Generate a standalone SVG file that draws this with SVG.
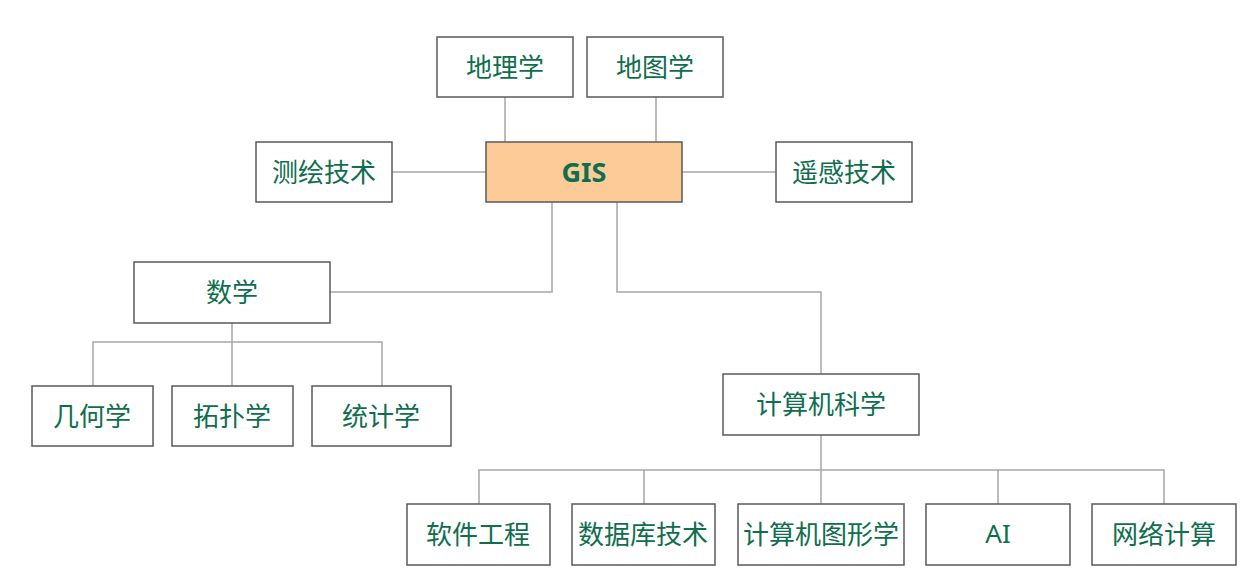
<svg xmlns="http://www.w3.org/2000/svg" width="1254" height="579" viewBox="0 0 1254 579">
<style>
.box{fill:#ffffff;stroke:#595959;stroke-width:1.5}
.root{fill:#FDCB98;stroke:#595959;stroke-width:1.5}
text{text-anchor:middle;dominant-baseline:central;fill:#0F6E4E;font-size:26px}
.lbl{font-family:"Noto Sans CJK SC","Noto Sans",sans-serif}
.gis{font-family:"Noto Sans","Open Sans",sans-serif;font-size:27px;font-weight:bold}
.ai{font-family:"Noto Sans","Open Sans",sans-serif}
.c{fill:none;stroke:#A6A6A6;stroke-width:1.5}
</style>
<rect width="1254" height="579" fill="#ffffff"/>
<g id="connectors">
<path class="c" d="M505,97V142"/>
<path class="c" d="M656,97V142"/>
<path class="c" d="M392,172H486"/>
<path class="c" d="M682,172H776"/>
<path class="c" d="M552,202V292H330"/>
<path class="c" d="M617,202V292H821V374"/>
<path class="c" d="M232,323V386"/>
<path class="c" d="M93,386V342H382V386"/>
<path class="c" d="M821,435V504"/>
<path class="c" d="M479,504V470H1164V504"/>
<path class="c" d="M644,470V504"/>
<path class="c" d="M998,470V504"/>
</g>
<g id="n-geography"><rect class="box" x="437" y="37" width="136" height="60"/><text class="lbl" x="505" y="65.5">地理学</text></g>
<g id="n-cartography"><rect class="box" x="587" y="37" width="136" height="60"/><text class="lbl" x="655" y="65.5">地图学</text></g>
<g id="n-gis"><rect class="root" x="486" y="142" width="196" height="60"/><text class="gis" x="584" y="171">GIS</text></g>
<g id="n-surveying"><rect class="box" x="256" y="142" width="136" height="60"/><text class="lbl" x="324" y="170.5">测绘技术</text></g>
<g id="n-rs"><rect class="box" x="776" y="142" width="136" height="60"/><text class="lbl" x="844" y="170.5">遥感技术</text></g>
<g id="n-math"><rect class="box" x="134" y="262" width="196" height="61"/><text class="lbl" x="232" y="290.5">数学</text></g>
<g id="n-geometry"><rect class="box" x="32" y="386" width="121" height="60"/><text class="lbl" x="92" y="414.5">几何学</text></g>
<g id="n-topology"><rect class="box" x="172" y="386" width="121" height="60"/><text class="lbl" x="232" y="414.5">拓扑学</text></g>
<g id="n-statistics"><rect class="box" x="312" y="386" width="139" height="60"/><text class="lbl" x="381" y="414.5">统计学</text></g>
<g id="n-cs"><rect class="box" x="723" y="374" width="196" height="61"/><text class="lbl" x="821" y="402.5">计算机科学</text></g>
<g id="n-se"><rect class="box" x="407" y="504" width="143" height="61"/><text class="lbl" x="478" y="532.5">软件工程</text></g>
<g id="n-db"><rect class="box" x="572" y="504" width="143" height="61"/><text class="lbl" x="643" y="532.5">数据库技术</text></g>
<g id="n-cg"><rect class="box" x="738" y="504" width="166" height="61"/><text class="lbl" x="821" y="532.5">计算机图形学</text></g>
<g id="n-ai"><rect class="box" x="926" y="504" width="144" height="61"/><text class="ai" x="998" y="533">AI</text></g>
<g id="n-net"><rect class="box" x="1092" y="504" width="144" height="61"/><text class="lbl" x="1164" y="532.5">网络计算</text></g>
</svg>
